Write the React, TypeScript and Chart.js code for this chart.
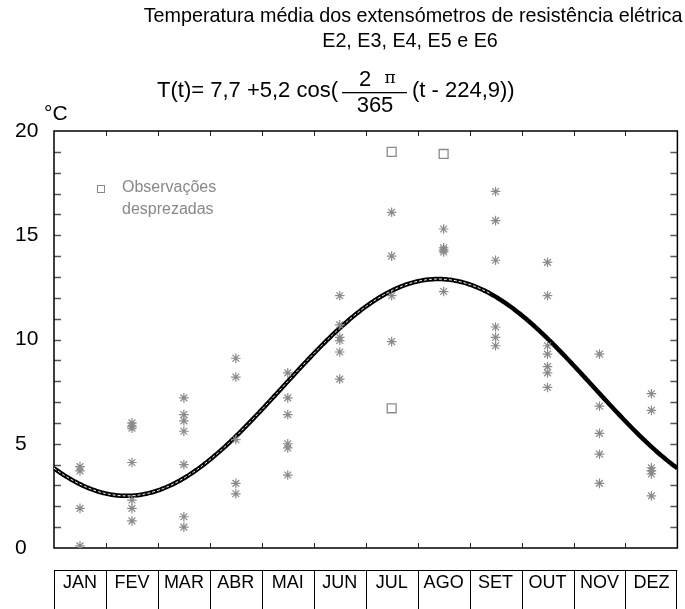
import React, { useEffect, useRef } from "react";
import { Chart, registerables } from "chart.js";

Chart.register(...registerables);

const months = ["JAN", "FEV", "MAR", "ABR", "MAI", "JUN", "JUL", "AGO", "SET", "OUT", "NOV", "DEZ"];

// observed temperatures (°C), one list per month
const obsJan = [3.9, 3.7, 1.9, 0.1];
const obsFev = [6.0, 5.85, 5.75, 4.1, 2.3, 1.9, 1.3];
const obsMar = [7.2, 6.4, 6.1, 5.6, 4.0, 1.5, 1.0];
const obsAbr = [9.1, 8.2, 5.2, 3.1, 2.6];
const obsMai = [8.4, 7.2, 6.4, 5.0, 4.8, 3.5];
const obsJun = [12.1, 10.7, 10.1, 9.95, 9.4, 8.1];
const obsJul = [16.1, 14.0, 12.1, 9.9];
const obsAgo = [15.3, 14.4, 14.3, 14.2, 12.3];
const obsSet = [17.1, 15.7, 13.8, 10.6, 10.1, 9.7];
const obsOut = [13.7, 12.1, 9.7, 9.3, 8.7, 8.4, 7.7];
const obsNov = [9.3, 6.8, 5.5, 4.5, 3.1];
const obsDez = [7.4, 6.6, 3.85, 3.7, 3.55, 2.5];
const observations = [obsJan, obsFev, obsMar, obsAbr, obsMai, obsJun, obsJul, obsAgo, obsSet, obsOut, obsNov, obsDez];

// discarded observations: month index, value
const discardedMonth = [6, 6, 7];
const discardedValue = [19.0, 6.7, 18.9];

// fitted curve parameters  T(t) = A + B cos(2π/P (t - t0))
const fitA = 7.7;
const fitB = 5.2;
const fitP = 365;
const fitT0 = 224.9;

const yTicks = [0, 5, 10, 15, 20];

const FONT = "'Liberation Sans', Arial, Helvetica, sans-serif";

function condensedText(ctx: CanvasRenderingContext2D, text: string, cx: number, cy: number, sx: number) {
  ctx.save();
  ctx.translate(cx, cy);
  ctx.scale(sx, 1);
  ctx.fillText(text, 0, 0);
  ctx.restore();
}

export default function App() {
  const ref = useRef<HTMLCanvasElement | null>(null);

  useEffect(() => {
    document.body.style.margin = "0";
    const canvas = ref.current;
    if (!canvas) return;

    const stars: { x: number; y: number }[] = [];
    observations.forEach((vals, i) => vals.forEach((v) => stars.push({ x: i + 0.5, y: v })));
    const squares = discardedMonth.map((m, i) => ({ x: m + 0.5, y: discardedValue[i] }));

    const curve: { x: number; y: number }[] = [];
    const curveDash: { x: number; y: number }[] = [];
    for (let t = 0; t <= fitP; t++) {
      const p = { x: (t / fitP) * 12, y: fitA + fitB * Math.cos((2 * Math.PI / fitP) * (t - fitT0)) };
      curve.push(p);
      if (t <= 255) curveDash.push(p);
    }

    const decor = {
      id: "decor",
      beforeDatasetsDraw(chart: any) {
        const { ctx, chartArea } = chart;
        const { left, right, top, bottom } = chartArea;
        const ys = chart.scales.y;
        const xs = chart.scales.x;
        ctx.save();
        // y minor ticks
        ctx.strokeStyle = "#555";
        ctx.lineWidth = 1.5;
        for (let v = 1; v < 20; v++) {
          const py = Math.round(ys.getPixelForValue(v)) + 0.5;
          ctx.beginPath();
          ctx.moveTo(left, py);
          ctx.lineTo(left + 7, py);
          ctx.moveTo(right - 7, py);
          ctx.lineTo(right, py);
          ctx.stroke();
        }
        // x ticks
        ctx.strokeStyle = "#222";
        ctx.lineWidth = 1;
        for (let m = 1; m < 12; m++) {
          const px = Math.round(xs.getPixelForValue(m)) + 0.5;
          ctx.beginPath();
          ctx.moveTo(px, top);
          ctx.lineTo(px, top + 5);
          ctx.moveTo(px, bottom);
          ctx.lineTo(px, bottom - 5);
          ctx.stroke();
        }
        // frame
        ctx.strokeStyle = "#000";
        ctx.lineWidth = 1.5;
        ctx.strokeRect(left, top, right - left, bottom - top);
        ctx.restore();
      },
      afterDraw(chart: any) {
        const { ctx, chartArea } = chart;
        const { left, right } = chartArea;
        const xs = chart.scales.x;
        ctx.save();
        ctx.fillStyle = "#000";
        ctx.textBaseline = "middle";
        // titles
        ctx.font = `21px ${FONT}`;
        ctx.textAlign = "center";
        condensedText(ctx, "Temperatura média dos extensómetros de resistência elétrica", 413, 16, 0.94);
        condensedText(ctx, "E2, E3, E4, E5 e E6", 410, 41, 0.94);
        // formula
        ctx.font = `22px ${FONT}`;
        ctx.textAlign = "right";
        ctx.fillText("T(t)= 7,7 +5,2 cos(", 338, 91);
        ctx.textAlign = "center";
        ctx.fillText("2", 365, 80);
        ctx.font = `17px 'DejaVu Serif', serif`;
        ctx.fillText("\u03c0", 390, 79);
        ctx.font = `22px ${FONT}`;
        ctx.fillText("365", 375, 106);
        ctx.fillRect(342, 92, 65, 1.3);
        ctx.textAlign = "left";
        ctx.fillText("(t - 224,9))", 412, 91);
        // unit
        ctx.font = `21px ${FONT}`;
        ctx.fillText("\u00b0C", 44, 114);
        // legend
        ctx.strokeStyle = "#888";
        ctx.lineWidth = 1;
        ctx.strokeRect(97.5, 185.5, 7, 7);
        ctx.fillStyle = "#888";
        ctx.font = `16px ${FONT}`;
        ctx.fillText("Observações", 122, 188);
        ctx.fillText("desprezadas", 122, 210);
        // month boxes
        const boxTop = 570;
        const boxBottom = 612;
        ctx.strokeStyle = "#000";
        ctx.lineWidth = 1;
        ctx.beginPath();
        ctx.moveTo(left, boxTop + 0.5);
        ctx.lineTo(right, boxTop + 0.5);
        for (let m = 0; m <= 12; m++) {
          const px = Math.round(xs.getPixelForValue(m)) + (m === 12 ? -0.5 : 0.5);
          ctx.moveTo(px, boxTop);
          ctx.lineTo(px, boxBottom);
        }
        ctx.stroke();
        ctx.fillStyle = "#000";
        ctx.font = `18px ${FONT}`;
        ctx.textAlign = "center";
        months.forEach((name, i) => {
          ctx.fillText(name, xs.getPixelForValue(i + 0.5), 583);
        });
        ctx.restore();
      },
    };

    const chart = new Chart(canvas, {
      type: "scatter",
      data: {
        datasets: [
          {
            label: "discarded",
            data: squares,
            pointStyle: "rect",
            pointRadius: 6.3,
            pointBorderColor: "#8a8a8a",
            pointBackgroundColor: "#fff",
            pointBorderWidth: 1.3,
            order: 1,
          } as any,
          {
            label: "observations",
            data: stars,
            pointStyle: "star",
            pointRadius: 4.8,
            pointBorderColor: "#8a8a8a",
            pointBackgroundColor: "#8a8a8a",
            pointBorderWidth: 1.2,
            order: 2,
          } as any,
          {
            type: "line",
            label: "curveDash",
            data: curveDash,
            showLine: true,
            pointRadius: 0,
            borderColor: "#fff",
            borderWidth: 1,
            borderDash: [3, 2],
            order: 3,
          } as any,
          {
            type: "line",
            label: "curve",
            data: curve,
            showLine: true,
            pointRadius: 0,
            borderColor: "#000",
            borderWidth: 4.5,
            order: 4,
          } as any,
        ],
      },
      options: {
        animation: false,
        responsive: false,
        events: [],
        layout: { padding: { top: 131, bottom: 61, left: 15, right: 1 } },
        plugins: { legend: { display: false }, title: { display: false }, tooltip: { enabled: false } },
        scales: {
          x: { type: "linear", min: 0, max: 12, display: false },
          y: {
            type: "linear",
            min: 0,
            max: 20,
            grid: { display: false },
            border: { display: false },
            afterFit: (s: any) => {
              s.width = 39;
            },
            afterBuildTicks: (s: any) => {
              s.ticks = yTicks.map((v) => ({ value: v }));
            },
            ticks: {
              padding: 0,
              crossAlign: "far",
              color: "#000",
              font: { family: FONT, size: 21 },
            },
          },
        },
      } as any,
      plugins: [decor],
    });
    return () => chart.destroy();
  }, []);

  return (
    <div style={{ position: "absolute", left: 0, top: 0, width: 685, height: 609 }}>
      <canvas ref={ref} width={685} height={609} />
    </div>
  );
}
